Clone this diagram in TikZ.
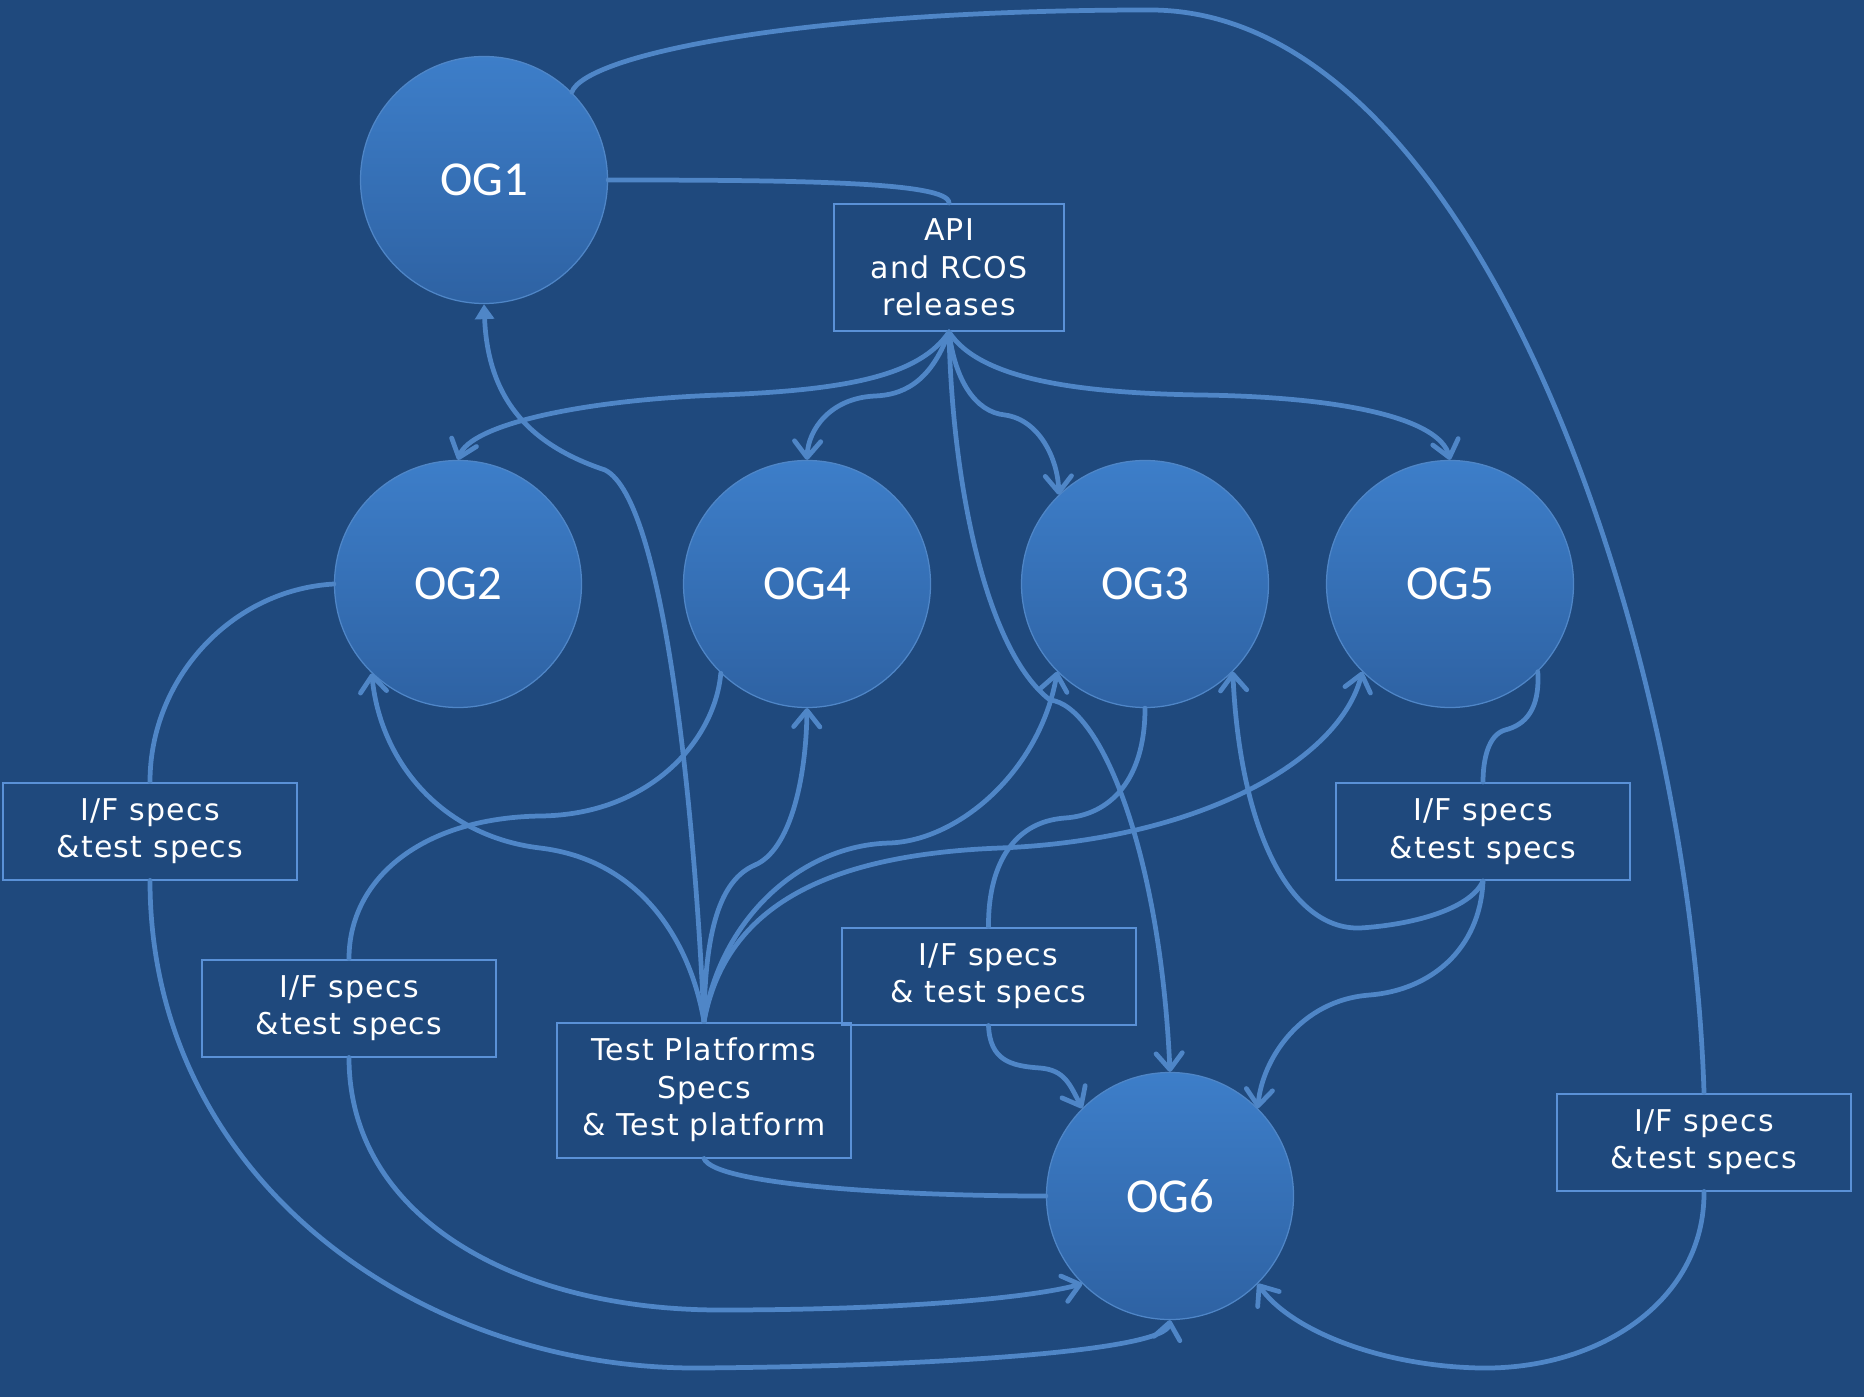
\documentclass[tikz,border=0pt]{standalone}
\usepackage{fontspec}
\setmainfont{DejaVu Sans}[LetterSpace=4]
\newfontfamily\ogfont{Carlito}
\usetikzlibrary{arrows.meta}
\definecolor{bg}{RGB}{31,73,125}
\definecolor{ogtop}{RGB}{61,126,201}
\definecolor{ogbot}{RGB}{46,98,163}
\definecolor{wire}{RGB}{79,134,199}
\definecolor{frame}{RGB}{90,145,215}
\begin{document}
\begin{tikzpicture}[x=0.4pt,y=-0.4pt,
  og/.style={circle, minimum size=98.8pt, inner sep=0pt, top color=ogtop, bottom color=ogbot,
    draw=wire, line width=0.5pt, text=white, font=\ogfont\fontsize{19.5}{22}\selectfont},
  spec/.style={rectangle, draw=frame, line width=0.8pt, text=white, align=center,
    inner sep=0pt, minimum width=117.6pt, minimum height=38.8pt, font=\fontsize{12}{15}\selectfont},
  link/.style={draw=wire, line width=1.9pt, line cap=round},
  barb/.style={-{Straight Barb[length=6.5pt,width=10.5pt,round]}},
  tri/.style={-{Triangle[length=6pt,width=7.5pt]}},
]
\fill[bg] (0,0) rectangle (1864,1397);
\useasboundingbox (0,0) rectangle (1864,1397);

% goal circles
\node[og] (og1) at (484,180) {OG1};
\node[og] (og2) at (458,584) {OG2};
\node[og] (og4) at (807,584) {OG4};
\node[og] (og3) at (1145,584) {OG3};
\node[og] (og5) at (1450,584) {OG5};
\node[og] (og6) at (1170,1196) {OG6};

% deliverable boxes
\node[spec, minimum width=92pt, minimum height=50.8pt] (api) at (949,267.5) {API\\and RCOS\\releases};
\node[spec] (if1) at (150,831) {I/F specs\\\&test specs};
\node[spec] (if2) at (349,1008) {I/F specs\\\&test specs};
\node[spec, minimum height=54pt] (tp) at (704,1090) {Test Platforms\\Specs\\\& Test platform};
\node[spec] (if3) at (988.5,976) {I/F specs\\\& test specs};
\node[spec] (if4) at (1483,831.5) {I/F specs\\\&test specs};
\node[spec] (if5) at (1704,1142) {I/F specs\\\&test specs};

% OG1 links
\draw[link] (og1.45) .. controls (585,55) and (800,10) .. (1150,10)
  .. controls (1480,10) and (1690,650) .. (if5.north);
\draw[link] (og1.east) .. controls (800,180) and (949,182) .. (api.north);

% API and RCOS releases
\draw[link,barb] (api.south) .. controls (920,375) and (850,390) .. (720,395)
  .. controls (580,400) and (470,425) .. (og2.north);
\draw[link,barb] (api.south) .. controls (930,385) and (900,395) .. (875,396)
  .. controls (830,398) and (808,430) .. (og4.north);
\draw[link,barb] (api.south) .. controls (955,380) and (975,412) .. (1005,415)
  .. controls (1040,420) and (1058,460) .. (og3.134);
\draw[link,barb] (api.south) .. controls (980,380) and (1080,393) .. (1200,395)
  .. controls (1350,397) and (1440,420) .. (og5.north);
\draw[link,barb] (api.south) .. controls (952,480) and (985,650) .. (1050,700)
  .. controls (1100,705) and (1160,850) .. (og6.north);

% test platforms
\draw[link,tri] (tp.north) .. controls (695,820) and (665,500) .. (605,470)
  .. controls (530,445) and (488,400) .. (og1.south);
\draw[link,barb] (tp.north) .. controls (690,940) and (640,860) .. (540,848)
  .. controls (440,836) and (380,760) .. (og2.226);
\draw[link,barb] (tp.north) .. controls (705,930) and (720,880) .. (755,865)
  .. controls (790,850) and (806,780) .. (og4.south);
\draw[link,barb] (tp.north) .. controls (720,920) and (800,845) .. (890,843)
  .. controls (960,840) and (1040,770) .. (og3.225);
\draw[link,barb] (tp.north) .. controls (725,910) and (820,855) .. (1000,848)
  .. controls (1200,840) and (1340,760) .. (og5.225);
\draw[link] (tp.south) .. controls (715,1185) and (900,1196) .. (og6.west);

% interface specs
\draw[link] (og2.west) .. controls (230,590) and (150,680) .. (if1.north);
\draw[link,barb] (if1.south) .. controls (150,1180) and (420,1370) .. (700,1368)
  .. controls (950,1366) and (1165,1350) .. (og6.south);
\draw[link] (og4.226) .. controls (715,740) and (650,815) .. (540,816)
  .. controls (420,818) and (349,880) .. (if2.north);
\draw[link,barb] (if2.south) .. controls (349,1220) and (520,1310) .. (720,1310)
  .. controls (900,1310) and (1030,1298) .. (og6.225);
\draw[link] (og3.south) .. controls (1145,780) and (1110,815) .. (1065,818)
  .. controls (1010,822) and (988,870) .. (if3.north);
\draw[link,barb] (if3.south) .. controls (990,1060) and (1010,1066) .. (1040,1068)
  .. controls (1065,1070) and (1070,1085) .. (og6.135);
\draw[link] (og5.-45) .. controls (1540,710) and (1525,725) .. (1505,730)
  .. controls (1488,735) and (1483,760) .. (if4.north);
\draw[link,barb] (if4.south) .. controls (1470,910) and (1410,925) .. (1360,928)
  .. controls (1290,930) and (1240,830) .. (og3.-45);
\draw[link,barb] (if4.south) .. controls (1480,950) and (1430,990) .. (1370,995)
  .. controls (1300,1000) and (1262,1060) .. (og6.45);
\draw[link,barb] (if5.south) .. controls (1705,1300) and (1600,1370) .. (1480,1368)
  .. controls (1380,1366) and (1290,1330) .. (og6.-45);
\end{tikzpicture}
\end{document}
